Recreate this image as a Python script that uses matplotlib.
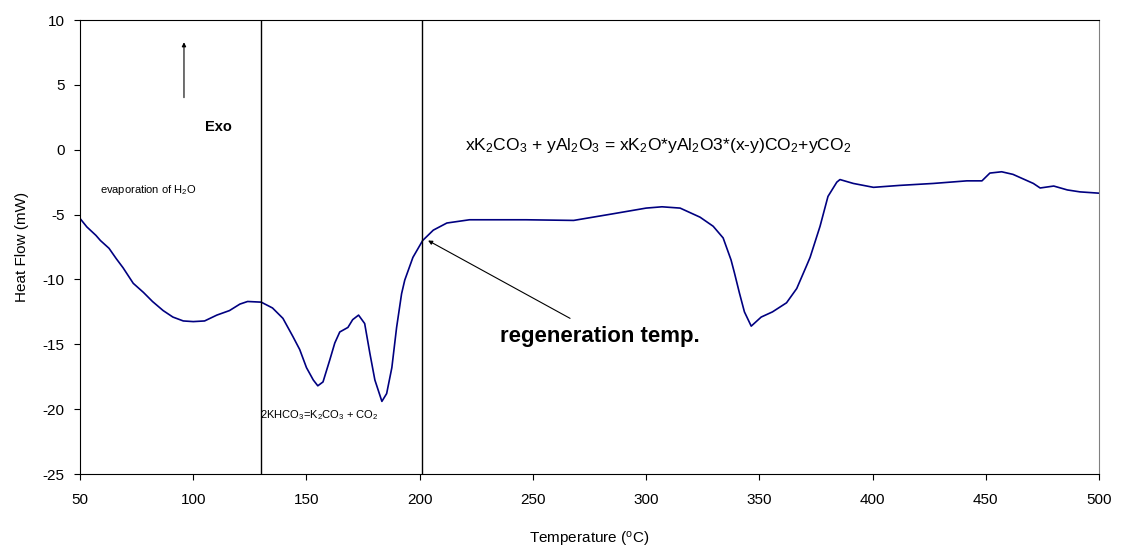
import matplotlib
matplotlib.use("Agg")
import matplotlib.pyplot as plt

plt.rcParams['font.family'] = ['Liberation Sans', 'DejaVu Sans']
plt.rcParams['mathtext.default'] = 'regular'
plt.rcParams['axes.unicode_minus'] = False

# DSC curve
temp = [50, 53, 57, 59, 62.8, 66, 69, 73.5, 78, 82, 86.7, 91, 95.6, 100, 105,
        110.4, 116, 120.6, 124, 130, 135, 139.6, 144, 147, 150, 153, 155, 157.3,
        160.3, 162.5, 164.7, 168.3, 170.4, 173, 175.7, 178, 180.2, 183.3, 185.4,
        187.7, 189.8, 192, 193.4, 197, 201.3, 206, 212, 222, 247, 268, 285, 300,
        307, 315, 323.8, 329.6, 334, 337.5, 339, 341.2, 343.4, 346.4, 350.8,
        355.8, 362, 366.5, 370.7, 372.4, 376.8, 380.3, 384.2, 385.6, 391.5,
        400.4, 412, 426.8, 441.6, 448.3, 451.8, 457, 462, 471, 474, 480, 486,
        491.6, 500]
heat_flow = [-5.3, -5.95, -6.6, -7.0, -7.6, -8.4, -9.1, -10.3, -11.0, -11.7,
             -12.4, -12.9, -13.2, -13.25, -13.2, -12.75, -12.4, -11.9, -11.7,
             -11.75, -12.2, -13.0, -14.4, -15.4, -16.8, -17.75, -18.2, -17.9,
             -16.2, -14.9, -14.05, -13.7, -13.1, -12.75, -13.4, -15.7, -17.75,
             -19.4, -18.8, -16.8, -13.7, -11.1, -10.05, -8.3, -7.0, -6.2, -5.65,
             -5.4, -5.4, -5.45, -4.95, -4.5, -4.4, -4.5, -5.2, -5.9, -6.8, -8.5,
             -9.5, -11.05, -12.5, -13.6, -12.9, -12.5, -11.8, -10.7, -9.0, -8.3,
             -5.9, -3.6, -2.5, -2.3, -2.6, -2.9, -2.75, -2.6, -2.4, -2.4, -1.8,
             -1.7, -1.9, -2.6, -2.95, -2.8, -3.1, -3.25, -3.35]

marker_temps = [130, 201]
x_ticks = [50, 100, 150, 200, 250, 300, 350, 400, 450, 500]
y_ticks = [-25, -20, -15, -10, -5, 0, 5, 10]

fig = plt.figure(figsize=(11.21, 5.48), dpi=100)
ax = fig.add_axes([0.0714, 0.135, 0.9090, 0.8285])

ax.plot(temp, heat_flow, color='#000080', lw=1.2)
for t in marker_temps:
    ax.axvline(t, color='black', lw=1)

ax.set_xlim(50, 500)
ax.set_ylim(-25, 10)
ax.set_xticks(x_ticks)
ax.set_yticks(y_ticks)
ax.tick_params(direction='out', length=4, labelsize=11, colors='black')
ax.tick_params(axis='x', pad=10)
ax.tick_params(axis='y', pad=7)
for side in ['left', 'bottom', 'top']:
    ax.spines[side].set_color('black')
ax.spines['right'].set_color('#808080')

ax.set_xlabel('Temperature ($^{o}$C)', fontsize=11, labelpad=16)
ax.set_ylabel('Heat Flow (mW)', fontsize=11, labelpad=10)

# annotations
ax.annotate('', xy=(95.9, 8.5), xytext=(95.9, 3.8),
            arrowprops=dict(arrowstyle='-|>', color='black', lw=0.8,
                            mutation_scale=6))
ax.text(105.2, 1.75, 'Exo', fontsize=10.5, fontweight='bold', va='center')
ax.text(58.8, -3.1, 'evaporation of H$_2$O', fontsize=8, va='center')
ax.text(129.6, -20.45, '2KHCO$_3$=K$_2$CO$_3$ + CO$_2$', fontsize=8,
        va='center')
ax.text(220, 0.36,
        'xK$_2$CO$_3$ + yAl$_2$O$_3$ = xK$_2$O*yAl$_2$O3*(x-y)CO$_2$+yCO$_2$',
        fontsize=12.6, va='center')
ax.annotate('', xy=(203.7, -7.0), xytext=(266.4, -13.0),
            arrowprops=dict(arrowstyle='-|>', color='black', lw=0.8,
                            mutation_scale=6, shrinkA=0, shrinkB=0))
ax.text(235.5, -14.4, 'regeneration temp.', fontsize=16,
        fontweight='bold', va='center')

fig.savefig('out.png', dpi=100)
